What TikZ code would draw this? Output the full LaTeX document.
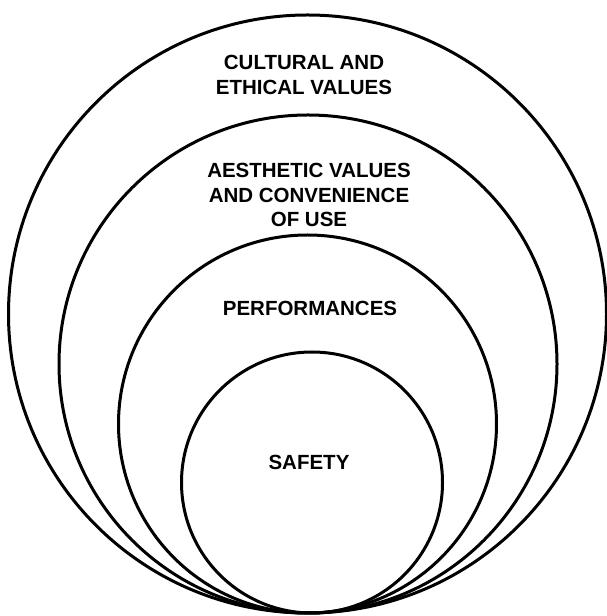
\documentclass[tikz,border=0pt]{standalone}
\usepackage{fontspec}
\setmainfont{Liberation Sans}
\usepackage{tikz}
\usetikzlibrary{positioning}

\begin{document}
\begin{tikzpicture}[x=1pt, y=1pt,
    ring/.style={line width=3pt, draw=black},
    lbl/.style={font=\fontsize{20.5pt}{24.5pt}\selectfont\bfseries, align=center, inner sep=0pt}]
  \useasboundingbox (0,0) rectangle (606,616);
  % nested rings, all touching at the bottom
  \draw[ring] (307.5,302) circle (299);   % cultural
  \draw[ring] (308,252) circle (249);     % aesthetic
  \draw[ring] (307.5,192) circle (189);   % performances
  \draw[ring] (312,133.5) circle (130.5); % safety
  % labels
  \node[lbl] (cultural) at (304,541) {CULTURAL AND\\ETHICAL VALUES};
  \node[lbl] (aesthetic) at (309,421) {AESTHETIC VALUES\\AND CONVENIENCE\\OF USE};
  \node[lbl] (perf) at (310,308) {PERFORMANCES};
  \node[lbl] (safety) at (309,154) {SAFETY};
\end{tikzpicture}
\end{document}
